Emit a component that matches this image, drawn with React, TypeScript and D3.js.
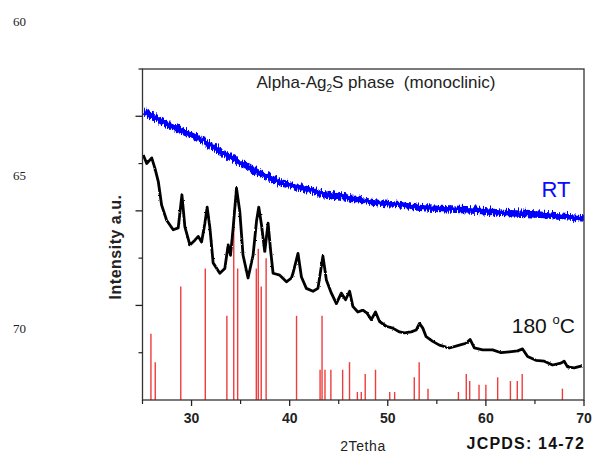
import React from 'react';
import * as d3 from 'd3';

// 2-theta (deg) vs intensity (a.u.)
const rtTheta = [25.0, 26.78, 28.81, 30.85, 32.88, 34.92, 36.95, 38.99, 41.02, 43.06, 45.09, 47.13, 49.16, 51.2, 53.23, 55.26, 57.3, 59.33, 61.36, 63.4, 65.43, 67.47, 69.9];
const rtIntensity = [3.07, 2.96, 2.87, 2.77, 2.64, 2.52, 2.41, 2.31, 2.26, 2.2, 2.17, 2.13, 2.1, 2.08, 2.05, 2.04, 2.03, 2.02, 2.0, 1.99, 1.98, 1.96, 1.94];

const hotTheta = [25.08, 25.43, 25.94, 26.27, 26.61, 26.95, 27.46, 28.13, 28.64, 29.02, 29.32, 29.83, 30.34, 30.68, 31.02, 31.36, 31.59, 31.87, 32.2, 32.88, 33.39, 33.73, 33.97, 34.24, 34.58, 34.92, 35.25, 35.76, 36.27, 36.62, 36.85, 37.13, 37.46, 37.8, 38.07, 38.31, 38.99, 39.67, 40.18, 40.34, 40.85, 41.2, 41.7, 42.38, 42.88, 43.39, 43.74, 44.25, 44.76, 45.26, 45.7, 46.11, 46.44, 46.95, 47.46, 47.87, 48.32, 48.75, 49.16, 49.84, 50.51, 51.2, 51.7, 52.39, 52.89, 53.23, 53.57, 53.91, 54.58, 55.26, 56.28, 57.3, 57.98, 58.39, 58.82, 59.67, 60.69, 61.54, 62.39, 63.23, 63.74, 64.25, 65.1, 65.95, 66.79, 67.64, 67.98, 68.32, 69.0, 69.78];
const hotIntensity = [2.59, 2.5, 2.56, 2.45, 2.31, 2.06, 1.9, 1.8, 1.82, 2.17, 1.83, 1.64, 1.69, 1.73, 1.67, 1.87, 2.04, 1.82, 1.45, 1.34, 1.39, 1.64, 1.53, 1.82, 2.24, 1.99, 1.53, 1.29, 1.53, 1.89, 2.04, 1.85, 1.57, 1.87, 1.57, 1.34, 1.32, 1.25, 1.29, 1.34, 1.55, 1.3, 1.18, 1.15, 1.18, 1.52, 1.27, 1.13, 1.02, 1.13, 1.06, 1.15, 0.99, 0.93, 0.95, 0.92, 0.85, 0.93, 0.83, 0.78, 0.76, 0.72, 0.71, 0.72, 0.74, 0.81, 0.76, 0.67, 0.62, 0.58, 0.55, 0.58, 0.6, 0.64, 0.55, 0.53, 0.53, 0.5, 0.51, 0.52, 0.54, 0.46, 0.42, 0.41, 0.37, 0.39, 0.41, 0.35, 0.34, 0.36];

// JCPDS 14-72 reference lines
const refTheta = [25.86, 26.3, 28.9, 31.4, 33.6, 34.3, 34.7, 36.6, 36.8, 37.1, 37.6, 40.7, 43.1, 43.3, 43.6, 44.2, 45.4, 46.1, 46.9, 47.3, 47.7, 48.75, 50.2, 50.7, 52.7, 53.2, 54.1, 57.2, 58.0, 58.35, 59.3, 60.0, 61.2, 62.5, 63.2, 63.7, 67.8];
const refIntensity = [0.7, 0.4, 1.2, 1.39, 0.89, 2.01, 1.39, 1.39, 1.6, 1.2, 1.5, 0.89, 0.32, 0.89, 0.32, 0.32, 0.32, 0.4, 0.085, 0.085, 0.275, 0.32, 0.085, 0.085, 0.24, 0.4, 0.12, 0.085, 0.275, 0.2, 0.16, 0.16, 0.24, 0.2, 0.2, 0.275, 0.12];

const xTicks = [30, 40, 50, 60, 70];
const xMinorTicks = [35, 45, 55, 65];
const yTicks = [1, 2, 3];
const yMinorTicks = [0.5, 1.5, 2.5, 3.5];
const lineNumbers = ['60', '65', '70'];

const W = 593;
const H = 454;
const margin = { left: 142.5, right: 9, top: 69, bottom: 54 };

export default function App() {
  const x = d3.scaleLinear().domain([25, 70]).range([margin.left, W - margin.right]);
  const y = d3.scaleLinear().domain([0, 3.5]).range([H - margin.bottom, margin.top]);

  const line = d3.line<[number, number]>()
    .x(d => x(d[0]))
    .y(d => y(d[1]));

  const rtPts = rtTheta.map((t, i) => [t, rtIntensity[i]] as [number, number]);
  const hotPts = hotTheta.map((t, i) => [t, hotIntensity[i]] as [number, number]);
  const y0 = y(0);
  const font = 'Arial, "Liberation Sans", sans-serif';

  return (
    <svg width={W} height={H} style={{ position: 'absolute', left: 0, top: 0, background: '#fff' }} fontFamily={font}>
      <defs>
        <filter id="noisy" x="-5%" y="-20%" width="110%" height="140%">
          <feTurbulence type="turbulence" baseFrequency="0.8 0.06" numOctaves={2} seed={3} result="n" />
          <feDisplacementMap in="SourceGraphic" in2="n" scale={7} xChannelSelector="A" yChannelSelector="G" />
        </filter>
        <filter id="rough" x="-5%" y="-10%" width="110%" height="120%">
          <feTurbulence type="fractalNoise" baseFrequency="0.5" numOctaves={1} seed={7} result="n" />
          <feDisplacementMap in="SourceGraphic" in2="n" scale={2.2} xChannelSelector="R" yChannelSelector="G" />
        </filter>
        <clipPath id="plot">
          <rect x={margin.left} y={margin.top} width={W - margin.right - margin.left} height={y0 - margin.top} />
        </clipPath>
      </defs>

      {/* manuscript line numbers */}
      {lineNumbers.map((t, i) => (
        <text key={t} x={13} y={[26, 180, 333][i]} fontFamily='"Liberation Serif", "Times New Roman", serif' fontSize={13} fill="#222">{t}</text>
      ))}

      <g clipPath="url(#plot)">
        {refTheta.map((t, i) => (
          <line key={i} x1={x(t)} x2={x(t)} y1={y0} y2={y(refIntensity[i])} stroke="#f03c3c" strokeWidth={1.4} />
        ))}
        <path d={line(rtPts) ?? ''} fill="none" stroke="#0000ff" strokeWidth={6.5} filter="url(#noisy)" />
        <path d={line(hotPts) ?? ''} fill="none" stroke="#000" strokeWidth={2.8} strokeLinejoin="round" filter="url(#rough)" />
      </g>

      {/* frame */}
      <rect x={margin.left} y={margin.top} width={W - margin.right - margin.left} height={y0 - margin.top} fill="none" stroke="#333" strokeWidth={1.3} />

      {/* bottom axis */}
      {xTicks.map(t => (
        <g key={t}>
          <line x1={x(t)} x2={x(t)} y1={y0} y2={y0 + 6} stroke="#222" strokeWidth={1.3} />
          <text x={x(t)} y={423} textAnchor="middle" fontSize={14} fontWeight="bold" fill="#222">{t}</text>
        </g>
      ))}
      {xMinorTicks.map(t => (
        <line key={t} x1={x(t)} x2={x(t)} y1={y0} y2={y0 + 4} stroke="#222" strokeWidth={1.2} />
      ))}
      <line x1={x(25)} x2={x(25)} y1={y0} y2={y0 + 4} stroke="#222" strokeWidth={1.2} />

      {/* left axis */}
      {yTicks.map(t => (
        <line key={t} x1={margin.left - 7} x2={margin.left} y1={y(t)} y2={y(t)} stroke="#222" strokeWidth={1.3} />
      ))}
      {yMinorTicks.map(t => (
        <line key={t} x1={margin.left - 4} x2={margin.left} y1={y(t)} y2={y(t)} stroke="#222" strokeWidth={1.2} />
      ))}

      {/* labels */}
      <text x={376} y={88} textAnchor="middle" fontSize={17} fill="#222">
        Alpha-Ag<tspan fontSize={10} dy={4}>2</tspan><tspan dy={-4}>S phase&#160;&#160;(monoclinic)</tspan>
      </text>
      <text x={556} y={197} textAnchor="middle" fontSize={22} fill="#0a0aff">RT</text>
      <text x={575} y={333} textAnchor="end" fontSize={21} fill="#111">
        180 <tspan fontSize={13} dy={-9}>o</tspan><tspan dy={9}>C</tspan>
      </text>
      <text transform={`translate(121,247) rotate(-90)`} textAnchor="middle" fontSize={16} fontWeight="bold" fill="#222" letterSpacing={0.5}>Intensity a.u.</text>
      <text x={363} y={451} textAnchor="middle" fontSize={14} fill="#222" letterSpacing={0.6}>2Tetha</text>
      <text x={585} y={449} textAnchor="end" fontSize={16} fontWeight="bold" fill="#111" letterSpacing={1.2}>JCPDS: 14-72</text>
    </svg>
  );
}
